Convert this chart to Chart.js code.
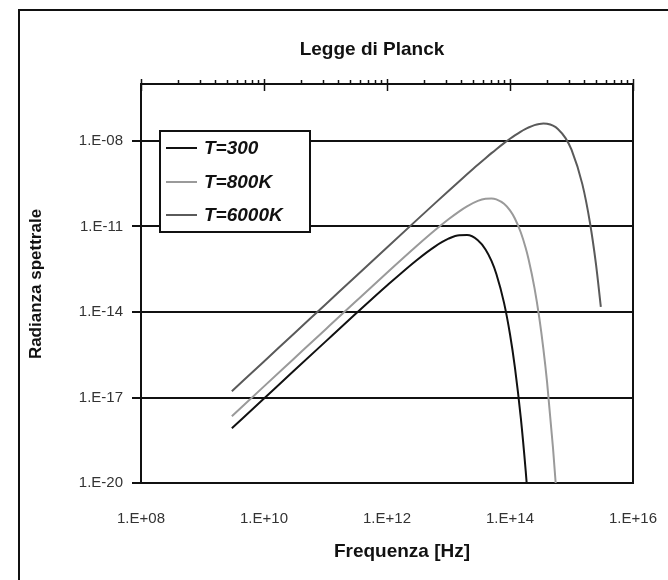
<!DOCTYPE html>
<html>
<head>
<meta charset="utf-8">
<title>Legge di Planck</title>
<script src="https://cdn.jsdelivr.net/npm/chart.js@4"></script>
<style>
  html, body { margin: 0; padding: 0; background: #fff; }
  canvas { display: block; }
</style>
</head>
<body>
<canvas id="planck" width="668" height="580"></canvas>
<script>
// frequenze [Hz] e radianza spettrale per ogni temperatura
const freqs300 = [3e9, 1e10, 3e10, 1e11, 3e11, 1e12, 3e12, 6e12, 1e13, 1.5e13, 2e13, 3e13, 4e13, 5e13, 6e13, 8e13, 1e14, 1.2e14, 1.5e14, 1.8e14, 2e14];
const rad300 = [8.30e-19, 9.21e-18, 8.28e-17, 9.14e-16, 8.10e-15, 8.50e-14, 6.46e-13, 1.98e-12, 3.73e-12, 4.97e-12, 5.01e-12, 3.31e-12, 1.57e-12, 6.19e-13, 2.16e-13, 2.09e-14, 1.66e-15, 1.17e-16, 1.89e-18, 2.68e-20, 1.50e-21];

const freqs800 = [3e9, 1e10, 3e10, 1e11, 3e11, 1e12, 3e12, 6e12, 1e13, 1.5e13, 2e13, 3e13, 4e13, 5e13, 6e13, 8e13, 1e14, 1.2e14, 1.5e14, 1.8e14, 2e14, 2.5e14, 3e14, 3.5e14, 4e14, 5e14, 5.5e14, 6e14];
const rad800 = [2.21e-18, 2.46e-17, 2.21e-16, 2.45e-15, 2.19e-14, 2.38e-13, 2.02e-12, 7.35e-12, 1.79e-11, 3.41e-11, 5.09e-11, 7.89e-11, 9.42e-11, 9.66e-11, 8.95e-11, 6.27e-11, 3.67e-11, 1.91e-11, 6.15e-12, 1.76e-12, 7.26e-13, 7.06e-14, 6.08e-15, 4.81e-16, 3.58e-17, 1.73e-19, 1.15e-20, 7.43e-22];

const freqs6000 = [3e9, 1e10, 3e10, 1e11, 3e11, 1e12, 3e12, 6e12, 1e13, 1.5e13, 2e13, 3e13, 4e13, 5e13, 6e13, 8e13, 1e14, 1.2e14, 1.5e14, 1.8e14, 2e14, 2.5e14, 3e14, 3.5e14, 4e14, 5e14, 6e14, 8e14, 1e15, 1.5e15, 2e15, 2.5e15, 3e15];
const rad6000 = [1.66e-17, 1.84e-16, 1.66e-15, 1.84e-14, 1.66e-13, 1.84e-12, 1.64e-11, 6.48e-11, 1.77e-10, 3.90e-10, 6.80e-10, 1.47e-9, 2.50e-9, 3.75e-9, 5.17e-9, 8.42e-9, 1.20e-8, 1.58e-8, 2.15e-8, 2.67e-8, 2.98e-8, 3.61e-8, 3.97e-8, 4.10e-8, 4.01e-8, 3.44e-8, 2.65e-8, 1.26e-8, 4.95e-9, 3.07e-10, 1.33e-11, 4.77e-13, 1.51e-14];

const seriesLabels = ['T=300', 'T=800K', 'T=6000K'];
const xTickValues = [1e8, 1e10, 1e12, 1e14, 1e16];
const yTickValues = [1e-20, 1e-17, 1e-14, 1e-11, 1e-8];

const FONT = "'Liberation Sans', Arial, sans-serif";

function toPoints(xs, ys) {
    return xs.map((x, i) => ({ x: x, y: ys[i] }));
}

// etichette nel formato 1.E+08 / 1.E-20
function sciLabel(value) {
    const e = Math.round(Math.log10(value));
    return '1.E' + (e < 0 ? '-' : '+') + String(Math.abs(e)).padStart(2, '0');
}

// cornice esterna, asse superiore con tacche, titoli e legenda
const framePlugin = {
    id: 'frame',
    afterDraw(chart) {
        const ctx = chart.ctx;
        const area = chart.chartArea;
        const xs = chart.scales.x;
        ctx.save();
        ctx.strokeStyle = '#111';

        // cornice esterna
        ctx.lineWidth = 2;
        ctx.beginPath();
        ctx.moveTo(19, 580);
        ctx.lineTo(19, 10);
        ctx.lineTo(668, 10);
        ctx.stroke();

        // bordo destro del grafico
        ctx.beginPath();
        ctx.moveTo(area.right, area.top);
        ctx.lineTo(area.right, area.bottom + 1);
        ctx.stroke();

        // asse superiore
        ctx.beginPath();
        ctx.moveTo(area.left, area.top);
        ctx.lineTo(area.right + 1, area.top);
        ctx.stroke();
        ctx.lineWidth = 1.5;
        for (let d = 8; d < 16; d += 2) {
            const base = Math.pow(10, d);
            for (let k = 2; k <= 9; k++) {
                const px = Math.round(xs.getPixelForValue(base * k * k)) + 0.5;
                ctx.beginPath();
                ctx.moveTo(px, area.top - 4);
                ctx.lineTo(px, area.top);
                ctx.stroke();
            }
        }
        xTickValues.forEach(v => {
            const px = Math.round(xs.getPixelForValue(v)) + 0.5;
            ctx.beginPath();
            ctx.moveTo(px, area.top - 5);
            ctx.lineTo(px, area.top + 7);
            ctx.stroke();
        });

        // titoli
        ctx.fillStyle = '#111';
        ctx.textAlign = 'center';
        ctx.textBaseline = 'middle';
        ctx.font = 'bold 19px ' + FONT;
        ctx.fillText('Legge di Planck', 372, 50);
        ctx.font = 'bold 19px ' + FONT;
        ctx.fillText('Frequenza [Hz]', 402, 552);
        ctx.save();
        ctx.translate(36, 284);
        ctx.rotate(-Math.PI / 2);
        ctx.font = 'bold 17px ' + FONT;
        ctx.fillText('Radianza spettrale', 0, 0);
        ctx.restore();

        // legenda
        const box = { left: 160, top: 131, right: 310, bottom: 232 };
        ctx.fillStyle = '#fff';
        ctx.fillRect(box.left, box.top, box.right - box.left, box.bottom - box.top);
        ctx.lineWidth = 2;
        ctx.strokeStyle = '#111';
        ctx.strokeRect(box.left, box.top, box.right - box.left, box.bottom - box.top);
        const rows = [148, 182, 215];
        ctx.textAlign = 'left';
        ctx.font = 'italic bold 19px ' + FONT;
        chart.data.datasets.forEach((ds, i) => {
            ctx.strokeStyle = ds.borderColor;
            ctx.lineWidth = 2;
            ctx.beginPath();
            ctx.moveTo(166, rows[i]);
            ctx.lineTo(197, rows[i]);
            ctx.stroke();
            ctx.fillStyle = '#111';
            ctx.fillText(ds.label, 204, rows[i] + 1);
        });
        ctx.restore();
    }
};

const datasets = [
    { label: seriesLabels[0], data: toPoints(freqs300, rad300), borderColor: '#111111' },
    { label: seriesLabels[1], data: toPoints(freqs800, rad800), borderColor: '#9a9a9a' },
    { label: seriesLabels[2], data: toPoints(freqs6000, rad6000), borderColor: '#5a5a5a' }
].map(ds => Object.assign(ds, {
    borderWidth: 2,
    pointRadius: 0,
    fill: false,
    cubicInterpolationMode: 'monotone'
}));

new Chart(document.getElementById('planck'), {
    type: 'line',
    data: { datasets: datasets },
    options: {
        responsive: false,
        animation: false,
        devicePixelRatio: 1,
        layout: { padding: { top: 84, right: 35, bottom: 0, left: 0 } },
        plugins: {
            legend: { display: false },
            title: { display: false },
            tooltip: { enabled: false }
        },
        scales: {
            x: {
                type: 'logarithmic',
                min: 1e8,
                max: 1e16,
                afterBuildTicks(scale) {
                    scale.ticks = xTickValues.map(v => ({ value: v }));
                },
                afterFit(scale) {
                    scale.height = 97;
                    scale.paddingLeft = 0;
                    scale.paddingRight = 0;
                },
                grid: { display: false },
                border: { display: true, color: '#111', width: 2 },
                ticks: {
                    callback: sciLabel,
                    autoSkip: false,
                    maxRotation: 0,
                    padding: 19,
                    color: '#333',
                    font: { family: FONT, size: 15 }
                }
            },
            y: {
                type: 'logarithmic',
                min: 1e-20,
                max: 1e-6,
                afterBuildTicks(scale) {
                    scale.ticks = yTickValues.map(v => ({ value: v }));
                },
                afterFit(scale) {
                    scale.width = 141;
                    scale.paddingTop = 0;
                    scale.paddingBottom = 0;
                },
                grid: { color: '#111', lineWidth: 2, tickLength: 9, drawTicks: true },
                border: { display: true, color: '#111', width: 2 },
                ticks: {
                    callback: sciLabel,
                    autoSkip: false,
                    padding: 9,
                    color: '#333',
                    font: { family: FONT, size: 15 }
                }
            }
        }
    },
    plugins: [framePlugin]
});
</script>
</body>
</html>
